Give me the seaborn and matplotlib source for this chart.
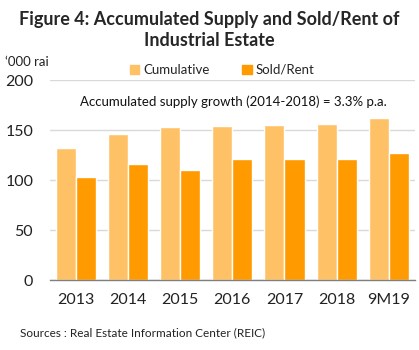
import numpy as np
import pandas as pd
import matplotlib
matplotlib.use("Agg")
import matplotlib.pyplot as plt
import seaborn as sns

years = ["2013", "2014", "2015", "2016", "2017", "2018", "9M19"]
cumulative = [132, 146, 153, 154, 155, 156, 162]
sold_rent = [103, 116, 110, 121, 121, 121, 127]
series = ["Cumulative", "Sold/Rent"]
colors = ["#FFC166", "#FF9A00"]

df = pd.DataFrame({
    "year": years * 2,
    "value": cumulative + sold_rent,
    "series": [series[0]] * len(years) + [series[1]] * len(years),
})

sns.set_theme(style="white")
plt.rcParams['font.family'] = ['Lato', 'DejaVu Sans']

fig = plt.figure(figsize=(4.19, 3.5), dpi=100)
ax = fig.add_axes([0.119, 0.2, 0.871, 0.571])
sns.barplot(data=df, x="year", y="value", hue="series", palette=colors,
            width=0.77, saturation=1, ax=ax, legend=False)

ax.set_ylim(0, 200)
ax.set_xlim(-0.5, 6.5)
ax.set_yticks([0, 50, 100, 150, 200])
ax.yaxis.grid(True, color="#D9D9D9", linewidth=1)
ax.set_axisbelow(True)
for s in ["top", "right", "left"]:
    ax.spines[s].set_visible(False)
ax.spines["bottom"].set_color("#808080")
ax.spines["bottom"].set_linewidth(1)
ax.tick_params(axis="both", length=0, labelsize=11.5, colors="#222222", pad=9)
ax.tick_params(axis="y", pad=12)
ax.set_xlabel("")
ax.set_ylabel("")

fig.text(0.5, 0.915, "Figure 4: Accumulated Supply and Sold/Rent of\nIndustrial Estate",
         ha="center", va="center", fontsize=13, fontweight="bold", linespacing=1.25)
fig.text(0.012, 0.822, "\u2018000 rai", fontsize=9.5, va="center", color="#222222")

# legend
handles = [plt.Rectangle((0, 0), 1, 1, color=c) for c in colors]
fig.legend(handles, series, loc="center", bbox_to_anchor=(0.53, 0.8), ncol=2,
           frameon=False, fontsize=9.5, handlelength=0.7, handleheight=0.7,
           handletextpad=0.3, columnspacing=2.5)

fig.text(0.558, 0.708, "Accumulated supply growth (2014-2018) = 3.3% p.a.",
         ha="center", va="center", fontsize=9.5, color="#111111")
fig.text(0.048, 0.048, "Sources : Real Estate Information Center (REIC)",
         fontsize=8.5, va="center", color="#222222")

fig.savefig("out.png", dpi=100)
